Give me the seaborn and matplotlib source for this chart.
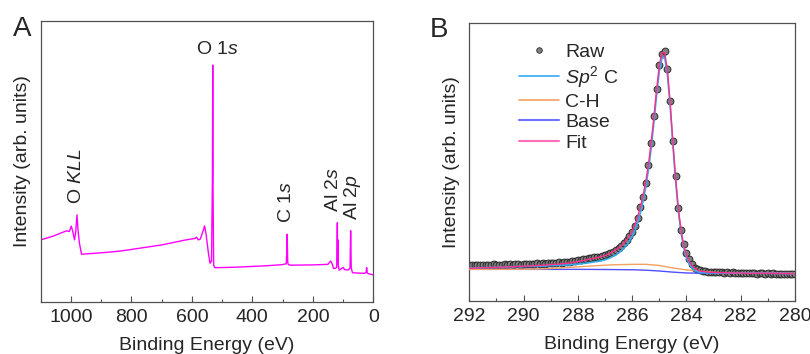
import numpy as np
import pandas as pd
import matplotlib.pyplot as plt
import seaborn as sns
from matplotlib.lines import Line2D
from matplotlib.ticker import MultipleLocator

# ---------------- data ----------------
# Panel A: XPS survey (binding energy in eV, intensity in arb. units 0-100)
survey_ev = [1100, 1060, 1015, 1005, 999, 995, 988, 984, 980, 976, 972, 965,
             900, 838, 800, 700, 620, 590, 585, 579, 572, 562, 558, 553, 545,
             540, 535, 532, 531, 530, 528, 524, 450, 353, 300, 288, 286, 285,
             283, 281, 275, 200, 150, 141, 135, 132, 127, 121, 119, 118, 117,
             116, 113, 104, 99, 95, 83, 77, 75, 73, 69, 50, 28, 24, 22, 20,
             17, 2, 0]
survey_int = [22.0, 23.3, 25.2, 25.0, 26.9, 25.5, 22.0, 25.0, 30.9, 25.0, 21.0, 16.9,
              17.4, 18.0, 18.6, 20.2, 22.0, 22.5, 23.0, 22.0, 22.3, 25.5, 27.0, 24.0, 17.0,
              13.7, 14.5, 45.0, 84.2, 40.0, 13.0, 12.1, 12.3, 12.8, 13.2, 13.5, 18.0, 24.0,
              14.0, 13.2, 13.0, 13.1, 13.3, 14.5, 13.2, 11.9, 11.8, 12.2, 28.1, 14.0, 22.0,
              13.0, 11.2, 11.9, 12.2, 11.4, 11.3, 12.0, 25.3, 12.0, 10.3, 10.2, 10.1, 10.4, 12.1, 10.2,
              10.0, 9.6, 9.6]

peak_labels = ['O $\\mathit{1s}$', 'O $\\mathit{KLL}$', 'C $\\mathit{1s}$',
               'Al $\\mathit{2s}$', 'Al $\\mathit{2p}$']
peak_ev = [517, 980, 287, 132, 69.5]
peak_y = [89.6, 44.7, 35.3, 40.1, 37.1]
peak_rot = [0, 90, 90, 90, 90]

# Panel B: C 1s high resolution, 292.0 -> 280.0 eV in 0.1 eV steps
c1s_ev = [round(292.0 - 0.1 * i, 1) for i in range(121)]
raw_int = [13.0,
           12.8, 13.1, 12.9, 13.0, 12.8, 13.1, 13.0, 12.9, 13.2, 13.0,
           13.1, 12.9, 13.2, 13.1, 13.3, 13.0, 13.2, 13.4, 13.1, 13.3,
           13.4, 13.2, 13.5, 13.3, 13.6, 13.4, 13.6, 13.5, 13.7, 13.6,
           13.8, 13.7, 13.9, 13.8, 14.0, 14.1, 14.0, 14.3, 14.4, 14.6,
           14.8, 15.0, 15.1, 15.4, 15.5, 15.7, 15.8, 15.9, 16.1, 16.4,
           16.8, 17.3, 17.8, 18.4, 19.0, 19.8, 20.8, 22.0, 23.4, 25.0,
           27.0, 30.0, 33.8, 37.5, 42.5, 49.0, 57.0, 66.5, 76.5, 85.0,
           89.0, 90.0, 83.5, 72.0, 57.5, 45.0, 33.5, 25.5, 20.5, 17.2,
           15.0, 13.2, 12.0, 11.4, 11.0, 10.9, 10.7, 10.6, 10.5, 10.6,
           10.4, 10.3, 10.4, 10.2, 10.3, 10.1, 10.3, 10.2, 10.0, 10.2,
           10.1, 10.0, 10.2, 10.0, 10.1, 9.9, 10.0, 10.1, 9.9, 10.0,
           9.8, 10.0, 9.9, 9.7, 9.9, 9.8, 9.6, 9.8, 9.6, 9.7]
fit_int = [11.8,
           11.8, 11.9, 11.9, 11.9, 12.0, 12.0, 12.0, 12.1, 12.1, 12.1,
           12.2, 12.2, 12.2, 12.3, 12.3, 12.3, 12.4, 12.4, 12.5, 12.5,
           12.6, 12.6, 12.7, 12.7, 12.8, 12.8, 12.9, 12.9, 13.0, 13.1,
           13.2, 13.2, 13.3, 13.4, 13.5, 13.6, 13.7, 13.9, 14.0, 14.2,
           14.4, 14.6, 14.8, 15.0, 15.2, 15.4, 15.6, 15.8, 16.1, 16.4,
           16.8, 17.3, 17.8, 18.4, 19.1, 19.9, 20.9, 22.1, 23.5, 25.2,
           27.4, 30.2, 33.7, 37.9, 43.0, 49.2, 57.0, 66.3, 76.2, 84.8,
           89.5, 89.4, 83.0, 71.5, 57.5, 44.5, 33.5, 25.5, 20.0, 16.5,
           14.3, 12.8, 11.8, 11.2, 10.8, 10.6, 10.5, 10.4, 10.3, 10.3,
           10.3, 10.2, 10.2, 10.2, 10.2, 10.1, 10.1, 10.1, 10.1, 10.1,
           10.0, 10.0, 10.0, 10.0, 10.0, 10.0, 10.0, 10.0, 10.0, 10.0,
           10.0, 10.0, 9.9, 9.9, 9.9, 9.9, 9.9, 9.8, 9.8, 9.8]
sp2_int = [11.8,
           11.8, 11.9, 11.9, 11.9, 12.0, 12.0, 12.0, 12.1, 12.1, 12.1,
           12.2, 12.2, 12.2, 12.3, 12.3, 12.3, 12.4, 12.4, 12.4, 12.4,
           12.5, 12.5, 12.5, 12.5, 12.6, 12.6, 12.6, 12.6, 12.7, 12.8,
           12.8, 12.8, 12.9, 12.9, 12.9, 13.0, 13.0, 13.1, 13.2, 13.3,
           13.4, 13.5, 13.6, 13.8, 13.9, 14.1, 14.2, 14.4, 14.6, 14.85,
           15.2, 15.6, 16.1, 16.6, 17.3, 18.1, 19.0, 20.2, 21.6, 23.3,
           25.4, 28.2, 31.7, 35.9, 41.0, 47.2, 55.0, 64.3, 74.2, 82.8,
           87.6, 87.6, 81.4, 70.2, 56.2, 43.4, 32.5, 24.6, 19.2, 15.6,
           13.4, 12.0, 11.1, 10.6, 10.3, 10.2, 10.1, 10.1, 10.1, 10.1,
           10.1, 10.1, 10.1, 10.1, 10.1, 10.1, 10.1, 10.1, 10.1, 10.1,
           10.0, 10.0, 10.0, 10.0, 10.0, 10.0, 10.0, 10.0, 10.0, 10.0,
           10.0, 10.0, 9.9, 9.9, 9.9, 9.9, 9.9, 9.8, 9.8, 9.8]

base_ev = [292, 291, 290, 289, 288, 287, 286, 285.5, 285, 284.5, 284, 283.5, 283, 282, 281, 280]
base_int = [11.4, 11.4, 11.4, 11.4, 11.4, 11.35, 11.25, 11.1, 10.8, 10.4, 10.1, 10.0, 10.0, 10.0, 10.0, 10.0]

ch_ev = [292, 291, 290, 289.5, 289, 288.5, 288, 287.5, 287, 286.5, 286, 285.5, 285,
         284.5, 284, 283.5, 283, 282.5, 282, 281, 280]
ch_int = [11.4, 11.4, 11.45, 11.5, 11.7, 12.0, 12.3, 12.6, 12.9, 13.1, 13.2, 13.2, 12.8,
          11.9, 11.2, 10.7, 10.3, 10.1, 10.0, 10.0, 10.0]

# ---------------- style ----------------
sns.set_style('ticks')
plt.rcParams['font.family'] = ['Liberation Sans', 'DejaVu Sans']
plt.rcParams['mathtext.fontset'] = 'custom'
plt.rcParams['mathtext.rm'] = 'Liberation Sans'
plt.rcParams['mathtext.it'] = 'Liberation Sans:italic'
plt.rcParams['font.size'] = 14

spine_col = '#505050'
fs = 14

fig = plt.figure(figsize=(8.1, 3.54), dpi=100)
axA = fig.add_axes([0.0502, 0.1477, 0.4107, 0.7938])
axB = fig.add_axes([0.5794, 0.1497, 0.4021, 0.7845])

# ---------------- Panel A ----------------
sns.lineplot(x=survey_ev, y=survey_int, ax=axA, color='#FF00FF', lw=1.0, sort=False)
for lab, ev, yy, rot in zip(peak_labels, peak_ev, peak_y, peak_rot):
    axA.text(ev, yy, lab, rotation=rot, ha='center', va='center', fontsize=fs)
axA.set_xlim(1100, 0)
axA.set_ylim(0, 100)
axA.xaxis.set_major_locator(MultipleLocator(200))
axA.xaxis.set_minor_locator(MultipleLocator(100))

# ---------------- Panel B ----------------
sns.scatterplot(x=c1s_ev, y=raw_int, ax=axB, s=24, color='#808080',
                edgecolor='#2a2a2a', linewidth=0.7, zorder=2)
sns.lineplot(x=base_ev, y=base_int, ax=axB, color='#5050FF', lw=1.0, zorder=3)
sns.lineplot(x=ch_ev, y=ch_int, ax=axB, color='#F4A060', lw=1.0, zorder=3)
sns.lineplot(x=c1s_ev, y=sp2_int, ax=axB, color='#33AAEE', lw=1.2, zorder=4)
sns.lineplot(x=c1s_ev, y=fit_int, ax=axB, color='#FF2E8A', lw=1.0, zorder=5)
axB.set_xlim(292, 280)
axB.set_ylim(0, 100)
axB.xaxis.set_major_locator(MultipleLocator(2))
axB.xaxis.set_minor_locator(MultipleLocator(1))

handles = [
    Line2D([], [], ls='none', marker='o', ms=4, mfc='#808080', mec='#2a2a2a', mew=0.6),
    Line2D([], [], color='#33AAEE', lw=1.2),
    Line2D([], [], color='#F4A060', lw=1.2),
    Line2D([], [], color='#7070FF', lw=1.5),
    Line2D([], [], color='#FF70B8', lw=1.5),
]
labels = ['Raw', '$\\mathit{Sp}^{2}$ C', 'C-H', 'Base', 'Fit']
fig.legend(handles, labels, loc='upper left', bbox_to_anchor=(0.641, 0.878),
           frameon=False, fontsize=fs, handlelength=2.05, handletextpad=0.3,
           labelspacing=0.16, borderpad=0, borderaxespad=0)

for ax in (axA, axB):
    ax.set_yticks([])
    ax.set_ylabel('Intensity (arb. units)', fontsize=fs, labelpad=7)
    ax.set_xlabel('Binding Energy (eV)', fontsize=fs, labelpad=8)
    ax.tick_params(axis='x', which='major', direction='in', length=4, width=0.8,
                   color=spine_col, labelsize=fs, pad=5, top=False)
    ax.tick_params(axis='x', which='minor', direction='in', length=2, width=0.8,
                   color=spine_col, top=False)
    for sp in ax.spines.values():
        sp.set_visible(True)
        sp.set_color(spine_col)
        sp.set_linewidth(0.9)
    if ax.get_legend() is not None:
        ax.get_legend().remove()

fig.text(0.016, 0.898, 'A', fontsize=20, ha='left', va='baseline')
fig.text(0.531, 0.896, 'B', fontsize=20, ha='left', va='baseline')

fig.savefig('out.png', dpi=100)
